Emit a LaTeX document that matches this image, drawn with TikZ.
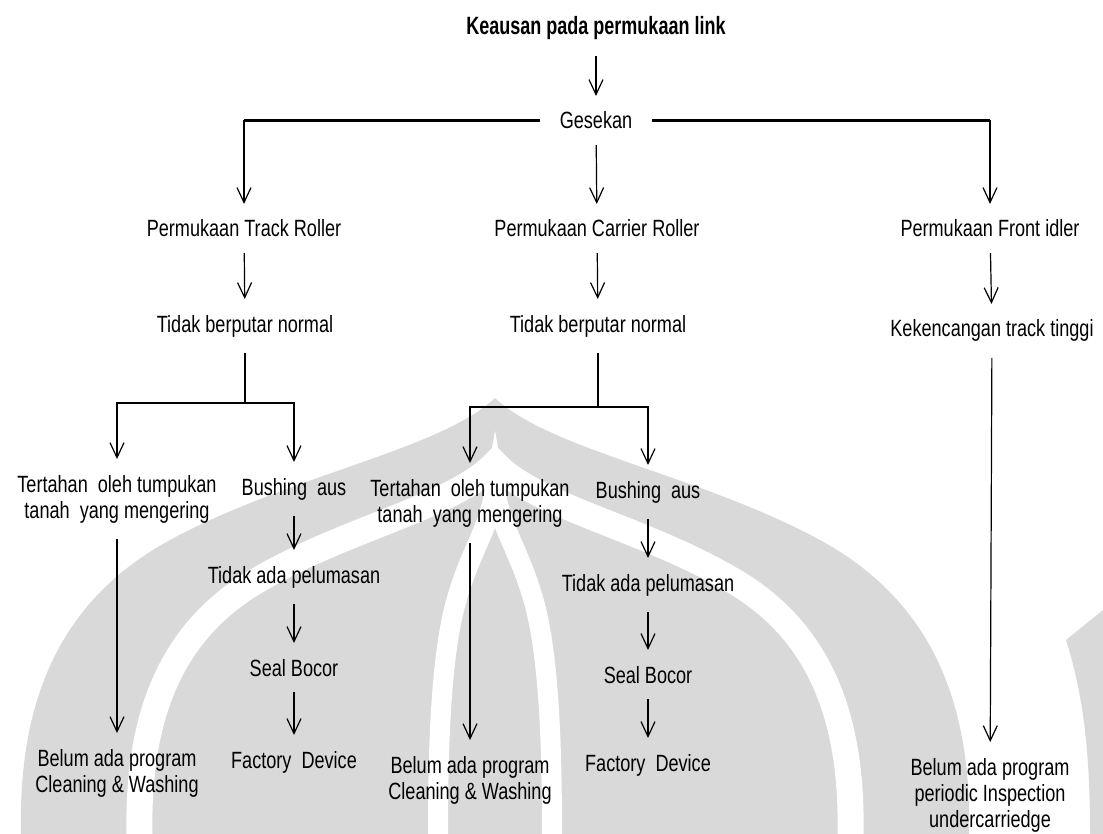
\documentclass[tikz,border=0pt]{standalone}
\usepackage{fontspec}
\setmainfont[FakeStretch=0.77]{Liberation Sans}
\newfontfamily\titlefont[FakeStretch=0.72]{Liberation Sans}
\usetikzlibrary{arrows.meta}
\newcommand{\domepath}{(-474,0) .. controls (-477,-134) and (-435,-234) .. (-325,-294)
  .. controls (-205,-359) and (-55,-384) .. (0,-436)
  .. controls (55,-384) and (205,-359) .. (325,-294)
  .. controls (435,-234) and (477,-134) .. (474,0)}

\begin{document}
\begin{tikzpicture}[x=1pt, y=-1pt,
  lbl/.style={inner sep=0pt, outer xsep=20pt, outer ysep=16pt, align=center,
    font=\fontsize{23.5}{26}\selectfont},
  arr/.style={-{Straight Barb[length=15pt,width=14pt]}, line width=1.2pt},
  bar/.style={line width=2.2pt},
  wm/.style={fill=black!15}]
   \useasboundingbox (0,0) rectangle (1103,834);
   % watermark behind the tree
   \begin{scope}[shift={(495,834)}]
     \fill[wm] \domepath;
     \foreach \sx/\sy/\w in {0.75/0.85/26, 0.12/0.79/20}
       \draw[white, line width=\w pt, xscale=\sx, yscale=\sy] \domepath;
   \end{scope}
   \fill[wm] (1066,640) .. controls (1085,700) and (1090,760) .. (1090,834)
     -- (1103,834) -- (1103,610) -- cycle;

   \node[lbl, anchor=base, font=\titlefont\fontsize{25}{28}\selectfont\bfseries] (keausan) at (596,35) {Keausan pada permukaan link};
   \node[lbl, anchor=base] (gesekan) at (596,129) {Gesekan};
   \node[lbl, anchor=base] (ptrack) at (244,237) {Permukaan Track Roller};
   \node[lbl, anchor=base] (pcarrier) at (597,237) {Permukaan Carrier Roller};
   \node[lbl, anchor=base] (pidler) at (990,237) {Permukaan Front idler};
   \node[lbl, anchor=base] (tidak1) at (245,332) {Tidak berputar normal};
   \node[lbl, anchor=base] (tidak2) at (598,332) {Tidak berputar normal};
   \node[lbl, anchor=base] (kencang) at (992,337) {Kekencangan track tinggi};

   \node[lbl] (tanah1) at (117,499) {Tertahan\ \ oleh tumpukan\\tanah\ \ yang mengering};
   \node[lbl, anchor=base] (bushing1) at (294,495) {Bushing\ \ aus};
   \node[lbl, anchor=base] (lumas1) at (294,583) {Tidak ada pelumasan};
   \node[lbl, anchor=base] (seal1) at (294,676) {Seal Bocor};
   \node[lbl, anchor=base] (factory1) at (294,768) {Factory\ \ Device};
   \node[lbl] (clean1) at (117,773) {Belum ada program\\Cleaning \& Washing};

   \node[lbl] (tanah2) at (470,503) {Tertahan\ \ oleh tumpukan\\tanah\ \ yang mengering};
   \node[lbl, anchor=base] (bushing2) at (648,498) {Bushing\ \ aus};
   \node[lbl, anchor=base] (lumas2) at (648,591) {Tidak ada pelumasan};
   \node[lbl, anchor=base] (seal2) at (648,683) {Seal Bocor};
   \node[lbl, anchor=base] (factory2) at (648,771) {Factory\ \ Device};
   \node[lbl] (clean2) at (470,780) {Belum ada program\\Cleaning \& Washing};

   \node[lbl] (inspect) at (990,795) {Belum ada program\\periodic Inspection\\undercarriedge};

   \coordinate (split1) at (245,403);
   \coordinate (split2) at (598,407);

   \draw[arr] (keausan) -- (gesekan);
   \draw[arr] (gesekan.west) -| (ptrack);
   \draw[arr] (gesekan.east) -| (pidler);
   \draw[bar] (gesekan.west) -- (gesekan.west -| ptrack);
   \draw[bar] (gesekan.east) -- (gesekan.east -| pidler);
   \draw[arr] (gesekan) -- (pcarrier);
   \draw[arr] (ptrack) -- (tidak1);
   \draw[arr] (pcarrier) -- (tidak2);
   \draw[arr] (pidler) -- (kencang);

   \draw[line width=1.2pt] (tidak1) -- (split1);
   \draw[arr] (split1) -| (tanah1);
   \draw[arr] (split1) -| (bushing1);
   \draw[bar] (split1 -| tanah1) -- (split1 -| bushing1);
   \draw[arr] (tanah1) -- (clean1);
   \draw[arr] (bushing1) -- (lumas1);
   \draw[arr] (lumas1) -- (seal1);
   \draw[arr] (seal1) -- (factory1);

   \draw[line width=1.2pt] (tidak2) -- (split2);
   \draw[arr] (split2) -| (tanah2);
   \draw[arr] (split2) -| (bushing2);
   \draw[bar] (split2 -| tanah2) -- (split2 -| bushing2);
   \draw[arr] (tanah2) -- (clean2);
   \draw[arr] (bushing2) -- (lumas2);
   \draw[arr] (lumas2) -- (seal2);
   \draw[arr] (seal2) -- (factory2);

   \draw[arr] (kencang) -- (inspect);
\end{tikzpicture}
\end{document}
